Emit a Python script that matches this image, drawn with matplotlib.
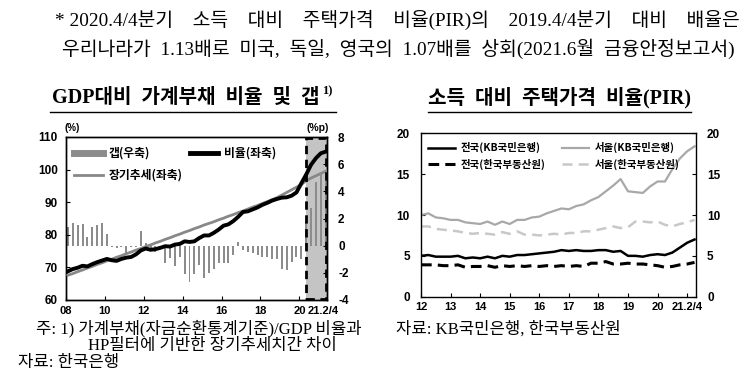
import matplotlib
matplotlib.use("Agg")
from matplotlib import pyplot as plt
from matplotlib.lines import Line2D
from matplotlib.patches import Rectangle
import numpy as np

plt.rcParams['font.family'] = ['Noto Sans CJK KR', 'DejaVu Sans']
SERIF = ['Liberation Serif', 'Noto Sans CJK KR']
TICKF = ['Liberation Sans', 'Noto Sans CJK KR']

# ---- left chart: household debt / GDP (quarterly 2008Q1 - 2021Q2)
debt_ratio = [68.8, 69.5, 69.9, 70.5, 70.3, 71.0, 71.6, 72.1,
              72.6, 72.2, 72.0, 72.6, 73.0, 73.2, 74.0, 75.2,
              75.8, 75.4, 75.6, 76.0, 76.5, 76.4, 77.0, 77.2,
              78.0, 77.8, 78.0, 79.0, 79.8, 79.8, 80.6, 81.6,
              82.8, 83.2, 84.2, 85.5, 87.0, 87.2, 87.8, 88.4,
              89.2, 89.8, 90.5, 91.0, 91.4, 91.5, 92.0, 93.0,
              95.8, 98.5, 101.5, 103.5, 105.0, 105.5]
debt_trend = [67.6, 68.1, 68.7, 69.2, 69.8, 70.3, 70.9, 71.4,
              72.0, 72.5, 73.1, 73.6, 74.2, 74.7, 75.3, 75.8,
              76.4, 76.9, 77.5, 78.0, 78.6, 79.1, 79.7, 80.2,
              80.8, 81.3, 81.9, 82.4, 83.0, 83.5, 84.0, 84.6,
              85.1, 85.7, 86.2, 86.8, 87.3, 87.9, 88.5, 89.0,
              89.6, 90.2, 90.8, 91.4, 92.2, 93.0, 93.8, 94.6,
              95.4, 96.6, 97.4, 98.1, 98.8, 99.5]
debt_gap = [1.4, 1.7, 1.5, 1.6, 0.65, 1.4, 1.5, 1.7,
            0.85, -0.1, -0.15, -0.1, -0.6, -0.1, -0.1, 1.1,
            0.2, -0.2, -0.45, -0.1, -1.3, -0.9, -1.5, -0.8,
            -2.1, -2.65, -2.1, -1.4, -2.4, -2.0, -1.7, -1.3,
            -1.3, -1.3, -0.7, 0.3, -0.3, -0.45, -0.55, -0.7,
            -0.85, -0.85, -0.95, -1.0, -1.75, -1.8, -1.2, -0.8,
            -0.95, 1.8, 2.8, 4.7, 5.3, 5.6]
left_xticks = [2008, 2010, 2012, 2014, 2016, 2018, 2020, 2021.2]
left_xlabels = ["08", "10", "12", "14", "16", "18", "20", "21.2/4"]

# ---- right chart: PIR (quarterly 2012Q1 - 2021Q2)
pir_nat_kb = [5.0, 5.1, 4.9, 4.9, 4.9, 5.0, 4.7, 4.8,
              4.7, 4.9, 4.7, 5.0, 4.9, 5.1, 5.1, 5.2,
              5.3, 5.4, 5.5, 5.7, 5.6, 5.7, 5.6, 5.6,
              5.7, 5.7, 5.5, 5.6, 5.0, 5.0, 4.9, 5.1,
              5.2, 5.1, 5.4, 6.0, 6.6, 7.0]
pir_seoul_kb = [10.0, 10.2, 9.7, 9.6, 9.4, 9.4, 9.1, 9.0,
                8.9, 9.2, 8.8, 9.2, 8.9, 9.4, 9.4, 9.7,
                9.8, 10.2, 10.5, 10.8, 10.7, 11.1, 11.3, 11.8,
                12.2, 12.9, 13.6, 14.4, 12.9, 12.8, 12.7, 13.5,
                14.1, 14.1, 15.6, 16.9, 17.8, 18.4]
pir_nat_kab = [3.9, 3.9, 3.9, 3.8, 3.8, 3.9, 3.6, 3.7,
               3.7, 3.8, 3.6, 3.8, 3.7, 3.8, 3.7, 3.8,
               3.7, 3.8, 3.7, 3.8, 3.7, 3.8, 3.7, 4.1,
               4.1, 4.3, 4.0, 4.0, 4.1, 4.0, 4.0, 3.9,
               3.8, 3.6, 3.7, 3.9, 4.0, 4.2]
pir_seoul_kab = [8.6, 8.6, 8.3, 8.2, 8.1, 8.0, 7.8, 7.7,
                 7.8, 7.7, 7.6, 7.9, 7.7, 8.0, 7.6, 7.6,
                 7.5, 7.6, 7.7, 7.6, 7.8, 7.8, 8.0, 8.0,
                 8.2, 8.4, 8.6, 8.4, 8.5, 9.2, 9.2, 9.1,
                 9.2, 8.8, 8.6, 8.9, 9.1, 9.4]
right_xticks = [2012, 2013, 2014, 2015, 2016, 2017, 2018, 2019, 2020, 2021]
right_xlabels = ["12", "13", "14", "15", "16", "17", "18", "19", "20", "21.2/4"]

t_left = 2008 + np.arange(len(debt_ratio)) / 4 + 0.1
t_right = 2012 + np.arange(len(pir_nat_kb)) / 4

fig = plt.figure(figsize=(7.5, 3.77), dpi=100)

# ---- header note
fig.text(55 / 750, 1 - 20 / 377,
         "* 2020.4/4분기    소득    대비    주택가격    비율(PIR)의    2019.4/4분기    대비    배율은",
         family=SERIF, fontsize=13.9, va='center', ha='left')
fig.text(62 / 750, 1 - 49 / 377,
         "우리나라가  1.13배로  미국,  독일,  영국의  1.07배를  상회(2021.6월  금융안정보고서)",
         family=SERIF, fontsize=13.9, va='center', ha='left')

# ---- titles
fig.text(186 / 750, 1 - 98 / 377, "GDP대비  가계부채  비율  및  갭",
         family=SERIF, fontsize=14.5, fontweight='bold', ha='center', va='center')
fig.text(322 / 750, 1 - 91 / 377, "1)", family=SERIF, fontsize=9,
         fontweight='bold', ha='left', va='center')
fig.text(560 / 750, 1 - 98 / 377, "소득  대비  주택가격  비율(PIR)",
         family=SERIF, fontsize=14.5, fontweight='bold', ha='center', va='center')
fig.add_artist(Line2D([50 / 750, 336 / 750], [1 - 112 / 377] * 2, color='black', lw=1))
fig.add_artist(Line2D([428 / 750, 691 / 750], [1 - 112 / 377] * 2, color='black', lw=1))

# ---- left chart
ax = fig.add_axes([66 / 750, 1 - 300 / 377, 261 / 750, 163 / 377])
ax2 = ax.twinx()
ax.set_zorder(ax2.get_zorder() + 1)
ax.patch.set_visible(False)

ax2.add_patch(Rectangle((2020.33, -4), 1.09, 12, facecolor='#c4c4c4',
                        edgecolor='none', zorder=0))
ax2.bar(t_left, debt_gap, width=0.1, color='#8c8c8c', zorder=2)
ax.plot(t_left, debt_trend, color='#888888', lw=2.0, zorder=3)
ax.plot(t_left, debt_ratio, color='black', lw=2.8, zorder=4)
ax.add_patch(Rectangle((2020.33, 60.2), 1.05, 49.6, facecolor='none',
                       edgecolor='black', lw=2, ls=(0, (3, 2)), zorder=5))

ax.set_xlim(2008, 2021.42)
ax.set_ylim(60, 110)
ax2.set_ylim(-4, 8)
ax.set_yticks(range(60, 111, 10))
ax2.set_yticks(range(-4, 9, 2))
ax2.set_yticklabels(["-4", "-2", "0", "2", "4", "6", "8"])
ax.set_xticks(left_xticks)
ax.set_xticklabels(left_xlabels)
for a in (ax, ax2):
    a.tick_params(direction='in', length=3, width=0.8, labelsize=8.5, pad=4)
    for lab in a.get_xticklabels() + a.get_yticklabels():
        lab.set_family(TICKF)
        lab.set_fontweight('bold')
    for s in a.spines.values():
        s.set_linewidth(1.0)
ax.tick_params(axis='x', labelsize=8)
ax.xaxis.get_major_ticks()[-1].tick1line.set_visible(False)
ax.tick_params(axis='y', pad=6)
ax2.tick_params(axis='y', pad=8)

fig.text(72 / 750, 1 - 128 / 377, "(%)", fontsize=7, fontweight='bold',
         family=TICKF, ha='center', va='center')
fig.text(318 / 750, 1 - 128 / 377, "(%p)", fontsize=7.5, fontweight='bold',
         family=TICKF, ha='center', va='center')

h_gap = Line2D([], [], color='#8c8c8c', lw=5)
h_trend = Line2D([], [], color='#888888', lw=2)
h_ratio = Line2D([], [], color='black', lw=3.5)
ax.legend([h_gap, h_trend, h_ratio], ["갭(우축)", "장기추세(좌축)", "비율(좌축)"],
          ncol=2, loc='upper left', bbox_to_anchor=(0.0, 0.99), frameon=False,
          prop={'size': 8.5, 'weight': 'bold'}, handlelength=2.4,
          handletextpad=0.5, columnspacing=0.6, labelspacing=0.75,
          borderaxespad=0.3)

# ---- right chart
bx = fig.add_axes([421 / 750, 1 - 296.7 / 377, 275 / 750, 163.4 / 377])
bx.plot(t_right, pir_seoul_kb, color='#a8a8a8', lw=1.6, label="서울(KB국민은행)")
bx.plot(t_right, pir_seoul_kab, color='#c8c8c8', lw=1.8, ls=(0, (4, 2.5)),
        label="서울(한국부동산원)")
bx.plot(t_right, pir_nat_kb, color='black', lw=1.8, label="전국(KB국민은행)")
bx.plot(t_right, pir_nat_kab, color='black', lw=2.2, ls=(0, (3.5, 2)),
        label="전국(한국부동산원)")
bx.set_xlim(2012, 2021.3)
bx.set_ylim(0, 20)
bx.set_yticks(range(0, 21, 5))
bx.set_xticks(right_xticks)
bx.set_xticklabels(right_xlabels)
bx.tick_params(direction='in', length=3, width=0.8, labelsize=8.5,
               right=True, labelright=True, pad=4)
bx.tick_params(axis='x', labelsize=8)
bx.tick_params(axis='y', pad=8)
for lab in bx.get_xticklabels() + bx.get_yticklabels():
    lab.set_family(TICKF)
    lab.set_fontweight('bold')
for s in bx.spines.values():
    s.set_linewidth(1.0)
hs, ls_ = bx.get_legend_handles_labels()
order = [2, 3, 0, 1]
bx.legend([hs[i] for i in order], [ls_[i] for i in order], ncol=2,
          loc='upper left', bbox_to_anchor=(0.0, 0.99), frameon=False,
          prop={'size': 7.5, 'weight': 'bold'}, handlelength=2.6,
          handletextpad=0.5, columnspacing=1.6, labelspacing=0.5,
          borderaxespad=0.3)

# ---- footnotes
fig.text(36 / 750, 1 - 329 / 377, "주: 1) 가계부채(자금순환통계기준)/GDP 비율과",
         family=SERIF, fontsize=12, ha='left', va='center')
fig.text(88 / 750, 1 - 346 / 377, "HP필터에 기반한 장기추세치간 차이",
         family=SERIF, fontsize=12, ha='left', va='center')
fig.text(18 / 750, 1 - 363 / 377, "자료: 한국은행",
         family=SERIF, fontsize=12, ha='left', va='center')
fig.text(396 / 750, 1 - 329 / 377, "자료: KB국민은행, 한국부동산원",
         family=SERIF, fontsize=12, ha='left', va='center')

fig.savefig("out.png", dpi=100)
